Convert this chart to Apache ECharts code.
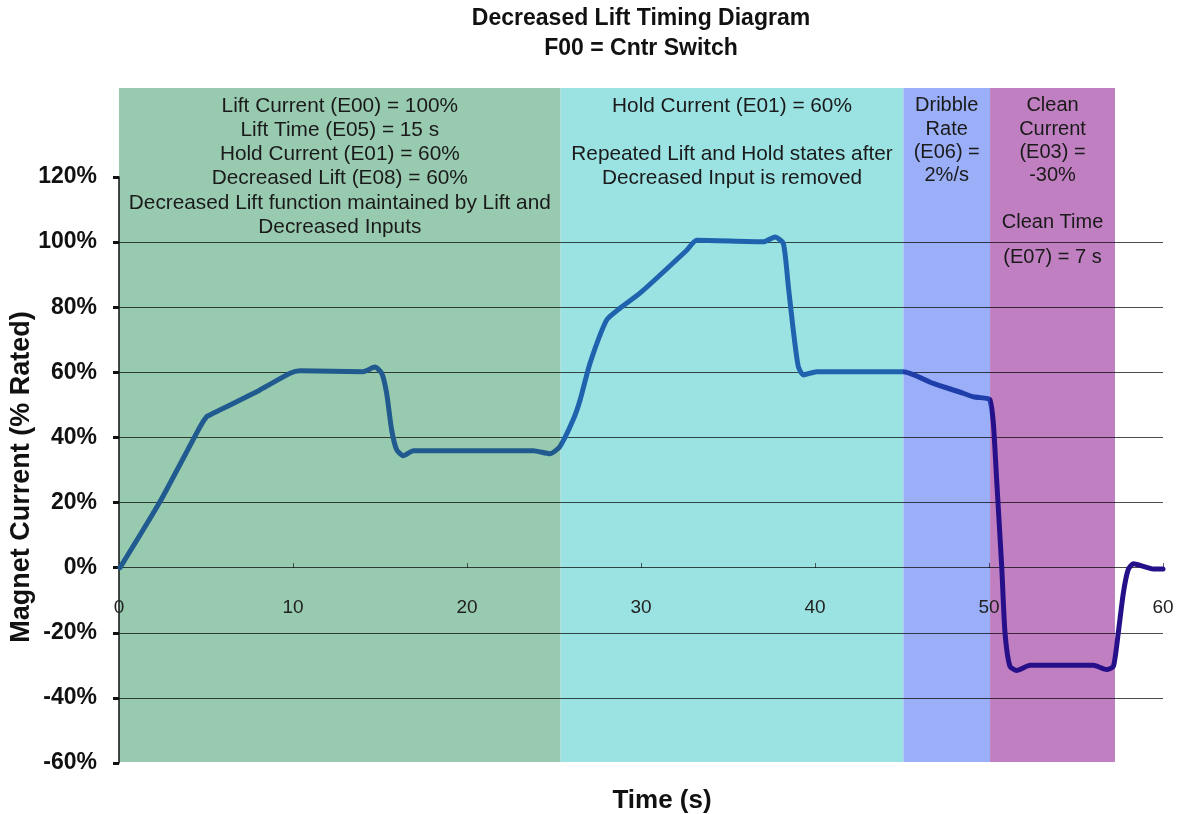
<!DOCTYPE html>
<html>
<head>
<meta charset="utf-8">
<script src="https://cdn.jsdelivr.net/npm/echarts@6/dist/echarts.min.js"></script>
<style>
  html, body { margin: 0; padding: 0; background: #fff; }
  #chart { width: 1186px; height: 814px; }
</style>
</head>
<body>
<div id="chart"></div>
<script>
// time (s) and magnet current (% rated)
var timeData = [0.06, 2.36, 4.66, 5.04, 5.23, 8.1, 9.83, 10.4, 14.04, 14.71, 15.1, 15.38, 15.67, 15.96, 16.34, 16.92,
  23.8, 24.77, 25.34, 26.1, 26.5, 27.07, 28.03, 28.79, 29.94, 32.63, 33.2, 37.03, 37.7, 38.18, 38.47, 38.75, 39.04,
  39.33, 40.1, 45.07, 46.8, 48.5, 49.1, 49.87, 50.06, 50.25, 50.44, 50.73, 50.92, 51.2, 51.59, 52.36, 55.99, 56.76,
  57.15, 57.43, 57.72, 58.0, 58.3, 58.87, 59.44, 60.0];
var currentData = [0, 20.3, 43.3, 46.4, 46.9, 54.6, 59.7, 60.5, 60.2, 61.6, 59.7, 53.6, 42.3, 36.2, 34.4, 35.9,
  35.9, 35, 37.2, 45.4, 51.5, 62.8, 76.1, 79.7, 84.3, 97.5, 100.6, 100.1, 101.6, 99.6, 86.3, 73, 61.8,
  59.2, 60.2, 60.2, 56.6, 53.6, 52.5, 52, 51.5, 44.4, 27, 0.4, -20, -30.3, -31.6, -30, -30, -31.3,
  -30.3, -20, -7.8, -0.6, 1.2, 0.4, -0.4, -0.4];

// shaded phases (start / end in s) and their notes
var bandStart = [0, 25.38, 45.08, 50.06];
var bandEnd = [25.38, 45.08, 50.06, 57.24];
var bandNotes = [
  'Lift Current (E00) = 100%\nLift Time (E05) = 15 s\nHold Current (E01) = 60%\nDecreased Lift (E08) = 60%\nDecreased Lift function maintained by Lift and\nDecreased Inputs',
  'Hold Current (E01) = 60%\n\nRepeated Lift and Hold states after\nDecreased Input is removed',
  'Dribble\nRate\n(E06) =\n2%/s',
  'Clean\nCurrent\n(E03) =\n-30%\n\nClean Time\n{b|(E07) = 7 s}'
];

var xMin = 0, xMax = 60, xStep = 10;
var yMin = -60, yMax = 120, yStep = 20;

var bandColors = ['#98cab0', '#9be2e3', '#9aaff7', '#bf7fc0'];
var lineColors = ['#215a8f', '#1f63ae', '#1f3ea9', '#26108a'];
var fontFam = '"Liberation Sans", Arial, sans-serif';

var myChart = echarts.init(document.getElementById('chart'));

var lineData = timeData.map(function (t, i) { return [t, currentData[i]]; });

var areaData = bandStart.map(function (s, i) {
  var fs = i < 2 ? 20.8 : 20;
  return [{
    xAxis: s,
    itemStyle: { color: bandColors[i], opacity: 1 },
    label: {
      show: true,
      position: 'insideTop',
      distance: 6,
      color: '#1a1a1a',
      fontFamily: fontFam,
      fontSize: fs,
      lineHeight: i < 2 ? 24.2 : 23.4,
      align: 'center',
      formatter: bandNotes[i],
      rich: { b: { fontFamily: fontFam, fontSize: fs, color: '#1a1a1a', lineHeight: 47 } }
    }
  }, { xAxis: bandEnd[i] }];
});

var option = {
  animation: false,
  backgroundColor: '#fff',
  graphic: [{
    type: 'text',
    x: 641,
    y: 4,
    z: 20,
    style: {
      text: 'Decreased Lift Timing Diagram\nF00 = Cntr Switch',
      font: 'bold 23px ' + fontFam,
      lineHeight: 30,
      textAlign: 'center',
      fill: '#111'
    }
  }],
  grid: [
    // plot area
    { left: 119, right: 23, top: 177, bottom: 51, outerBoundsMode: 'none', containLabel: false },
    // shaded phase boxes
    { left: 119, right: 23, top: 88, bottom: 52, outerBoundsMode: 'none', containLabel: false },
    // time labels sitting on the 0% line
    { left: 119, right: 23, top: 177, bottom: 246, outerBoundsMode: 'none', containLabel: false }
  ],
  xAxis: [{
    type: 'value',
    gridIndex: 0,
    min: xMin,
    max: xMax,
    interval: xStep,
    z: 3,
    name: 'Time (s)',
    nameLocation: 'middle',
    nameGap: 25,
    nameMoveOverlap: false,
    nameTextStyle: { fontFamily: fontFam, fontSize: 26, fontWeight: 'bold', color: '#111', padding: [0, 0, 0, 42] },
    axisLine: { show: false, onZero: false },
    axisTick: { show: false },
    axisLabel: { show: false },
    splitLine: { show: false }
  }, {
    type: 'value',
    gridIndex: 1,
    min: xMin,
    max: xMax,
    show: false
  }, {
    type: 'value',
    gridIndex: 2,
    min: xMin,
    max: xMax,
    interval: xStep,
    z: 3,
    axisLine: { show: false, onZero: false },
    axisTick: { show: true, inside: true, length: 5, lineStyle: { color: 'rgba(0,0,0,0.6)' } },
    axisLabel: { margin: 30, fontFamily: fontFam, fontSize: 19, color: '#222' },
    splitLine: { show: false }
  }],
  yAxis: [{
    type: 'value',
    gridIndex: 0,
    min: yMin,
    max: yMax,
    interval: yStep,
    z: 3,
    name: 'Magnet Current (% Rated)',
    nameLocation: 'middle',
    nameGap: 84,
    nameMoveOverlap: false,
    nameTextStyle: { fontFamily: fontFam, fontSize: 27, fontWeight: 'bold', color: '#111', padding: [0, 14, 0, 0] },
    axisLine: { show: true, onZero: false, lineStyle: { color: '#111', width: 1.5 } },
    axisTick: { show: true, length: 6, lineStyle: { color: '#111', width: 3 } },
    axisLabel: {
      margin: 22,
      fontFamily: fontFam,
      fontSize: 23,
      fontWeight: 'bold',
      color: '#111',
      formatter: function (v) { return v + '%'; }
    },
    splitLine: { show: true, showMinLine: false, showMaxLine: false, lineStyle: { color: 'rgba(0,0,0,0.7)', width: 1 } }
  }, {
    type: 'value',
    gridIndex: 1,
    min: 0,
    max: 1,
    show: false
  }, {
    type: 'value',
    gridIndex: 2,
    min: 0,
    max: 1,
    show: false
  }],
  visualMap: {
    type: 'piecewise',
    show: false,
    dimension: 0,
    seriesIndex: 1,
    pieces: [
      { lt: bandEnd[0], color: lineColors[0] },
      { gte: bandEnd[0], lt: bandEnd[1], color: lineColors[1] },
      { gte: bandEnd[1], lt: bandEnd[2], color: lineColors[2] },
      { gte: bandEnd[2], color: lineColors[3] }
    ]
  },
  series: [{
    type: 'line',
    xAxisIndex: 1,
    yAxisIndex: 1,
    data: [],
    z: 1,
    silent: true,
    markArea: { silent: true, z: 1, data: areaData }
  }, {
    name: 'Magnet Current',
    type: 'line',
    xAxisIndex: 0,
    yAxisIndex: 0,
    z: 5,
    data: lineData,
    symbol: 'none',
    smooth: 0.2,
    lineStyle: { width: 5, cap: 'round', join: 'round' }
  }]
};

myChart.setOption(option);
window.addEventListener('resize', function () {
  myChart.resize();
});
</script>
</body>
</html>
